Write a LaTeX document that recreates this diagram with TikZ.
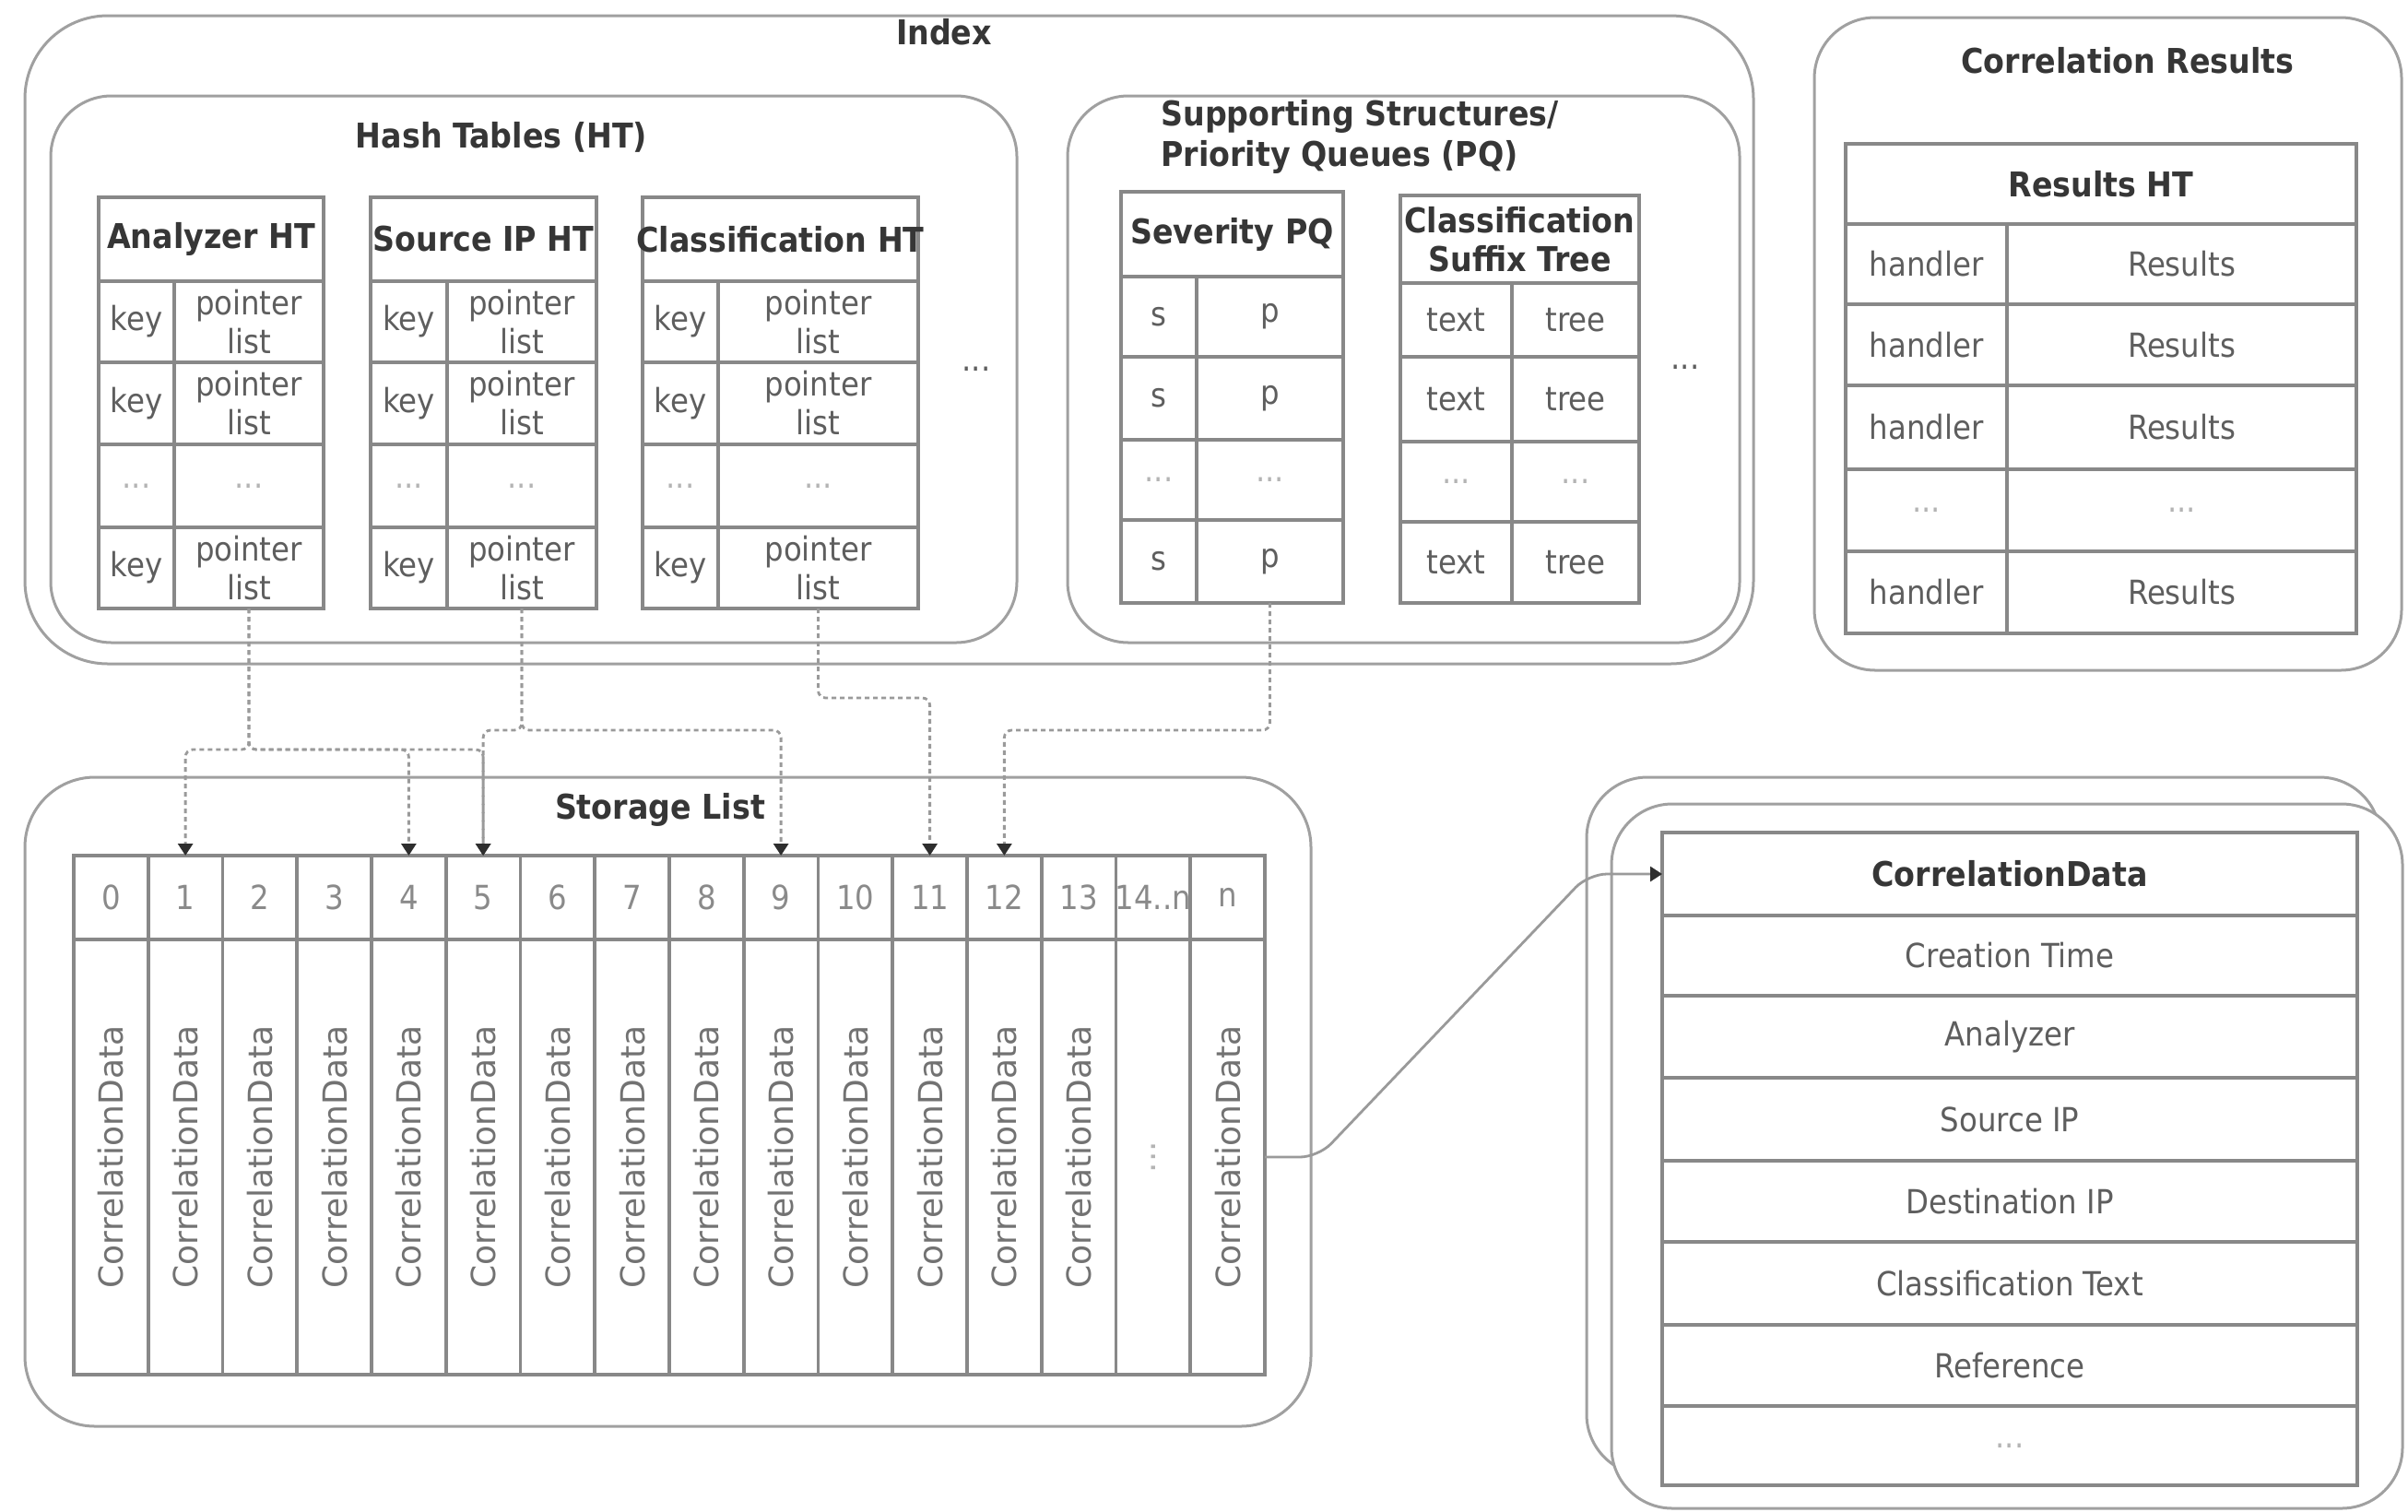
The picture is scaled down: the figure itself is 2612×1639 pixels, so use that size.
\documentclass[tikz,border=0pt]{standalone}
\usepackage{fontspec}
\setmainfont{DejaVu Sans Condensed}
\newfontfamily\widefont{DejaVu Sans}
\usetikzlibrary{arrows.meta}
\definecolor{boxc}{HTML}{A0A0A0}
\definecolor{tabc}{HTML}{888888}
\definecolor{txtc}{HTML}{5E5E5E}
\definecolor{hdc}{HTML}{363636}
\definecolor{dotc}{HTML}{B4B4B4}
\definecolor{numc}{HTML}{8A8A8A}
\definecolor{conc}{HTML}{9A9A9A}
\definecolor{tipc}{HTML}{2E2E2E}
\definecolor{rotc}{HTML}{727272}
\newcommand\cellat[7]{\node[cellbox, minimum width={(#4-#2)*0.5pt}, minimum height={(#5-#3)*0.5pt}, #6] (#1) at ({(#2+#4)/2},{(#3+#5)/2}) {#7};}
\newcommand\rbox[6]{\node[roundbox, rounded corners=#6, minimum width={(#4-#2)*0.5pt}, minimum height={(#5-#3)*0.5pt}] (#1) at ({(#2+#4)/2},{(#3+#5)/2}) {};}
\newcommand\hashtab[5]{%
 \cellat{#1-h}{#2}{214}{#4}{305}{hd}{\makebox[0pt]{#5}}
 \cellat{#1-k1}{#2}{305}{#3}{393}{}{key}
 \cellat{#1-p1}{#3}{305}{#4}{393}{}{pointer\\list}
 \cellat{#1-k2}{#2}{393}{#3}{482}{}{key}
 \cellat{#1-p2}{#3}{393}{#4}{482}{}{pointer\\list}
 \cellat{#1-k3}{#2}{482}{#3}{572}{dots}{...}
 \cellat{#1-p3}{#3}{482}{#4}{572}{dots}{...}
 \cellat{#1-k4}{#2}{572}{#3}{660}{}{key}
 \cellat{#1-p4}{#3}{572}{#4}{660}{}{pointer\\list}
}
\begin{document}
\begin{tikzpicture}[x=0.5pt,y=-0.5pt,
  cellbox/.style={draw=tabc, line width=1.8pt, inner sep=0pt, outer sep=0pt, align=center, text=txtc, font=\fontsize{18}{21}\selectfont},
  hd/.style={text=hdc, font=\fontsize{18.5}{21}\selectfont\bfseries},
  dots/.style={text=dotc},
  num/.style={text=numc},
  roundbox/.style={draw=boxc, line width=1.5pt, fill=white, inner sep=0pt, outer sep=0pt},
  title/.style={text=hdc, font=\fontsize{18.5}{22}\selectfont\bfseries, inner sep=0pt},
  plain/.style={text=txtc, font=\fontsize{18}{21}\selectfont, inner sep=0pt},
  rottext/.style={rotate=90, text=rotc, font=\widefont\fontsize{18}{21}\selectfont, inner sep=0pt},
  conn/.style={draw=conc, line width=1.4pt, dash pattern=on 2.5pt off 2pt, rounded corners=4pt, -{Triangle[width=8pt,length=6.5pt,fill=tipc,color=tipc]}},
  solidconn/.style={draw=conc, line width=1.4pt, rounded corners=10pt, -{Triangle[width=8pt,length=6.5pt,fill=tipc,color=tipc]}},
]
\path[fill=white] (0,0) rectangle (2612,1639);
\useasboundingbox (0,0) rectangle (2612,1639);

% container boxes
\rbox{index}{27}{17}{1902}{720}{45pt}
\rbox{hashbox}{55}{104}{1103}{697}{33pt}
\rbox{suppbox}{1158}{104}{1887}{697}{33pt}
\rbox{resbox}{1968}{19}{2605}{727}{33pt}
\rbox{storebox}{27}{843}{1422}{1547}{38pt}
\rbox{cdback}{1721}{843}{2582}{1600}{33pt}
\rbox{cdfront}{1748}{872}{2606}{1636}{33pt}

% titles
\node[title] (indexlbl) at (1024,35) {Index};
\node[title] (hashlbl) at (544,149) {Hash Tables (HT)};
\node[title, anchor=west, align=left] (supplbl) at (1259,148) {Supporting Structures/\\Priority Queues (PQ)};
\node[title] (reslbl) at (2308,66) {Correlation Results};
\node[title] (storelbl) at (716,878) {Storage List};
\node[plain] (dotsA) at (1059,400) {...};
\node[plain] (dotsB) at (1828,398) {...};

% hash tables
\hashtab{an}{107}{189}{351}{Analyzer HT}
\hashtab{si}{402}{485}{647}{Source IP HT}
\hashtab{cl}{697}{779}{996}{Classification HT}

% severity PQ
\cellat{sv-h}{1216}{208}{1457}{300}{hd}{Severity PQ}
\cellat{sv-k1}{1216}{300}{1298}{387}{}{s}
\cellat{sv-p1}{1298}{300}{1457}{387}{}{p}
\cellat{sv-k2}{1216}{387}{1298}{477}{}{s}
\cellat{sv-p2}{1298}{387}{1457}{477}{}{p}
\cellat{sv-k3}{1216}{477}{1298}{564}{dots}{...}
\cellat{sv-p3}{1298}{477}{1457}{564}{dots}{...}
\cellat{sv-k4}{1216}{564}{1298}{654}{}{s}
\cellat{sv-p4}{1298}{564}{1457}{654}{}{p}

% classification suffix tree
\cellat{sf-h}{1519}{212}{1778}{307}{hd}{\makebox[0pt]{Classification}\\Suffix Tree}
\cellat{sf-k1}{1519}{307}{1640}{387}{}{text}
\cellat{sf-p1}{1640}{307}{1778}{387}{}{tree}
\cellat{sf-k2}{1519}{387}{1640}{479}{}{text}
\cellat{sf-p2}{1640}{387}{1778}{479}{}{tree}
\cellat{sf-k3}{1519}{479}{1640}{566}{dots}{...}
\cellat{sf-p3}{1640}{479}{1778}{566}{dots}{...}
\cellat{sf-k4}{1519}{566}{1640}{654}{}{text}
\cellat{sf-p4}{1640}{566}{1778}{654}{}{tree}

% results HT
\cellat{rs-h}{2002}{156}{2556}{243}{hd}{Results HT}
\cellat{rs-k1}{2002}{243}{2177}{330}{}{handler}
\cellat{rs-p1}{2177}{243}{2556}{330}{}{Results}
\cellat{rs-k2}{2002}{330}{2177}{418}{}{handler}
\cellat{rs-p2}{2177}{330}{2556}{418}{}{Results}
\cellat{rs-k3}{2002}{418}{2177}{509}{}{handler}
\cellat{rs-p3}{2177}{418}{2556}{509}{}{Results}
\cellat{rs-k4}{2002}{509}{2177}{598}{dots}{...}
\cellat{rs-p4}{2177}{509}{2556}{598}{dots}{...}
\cellat{rs-k5}{2002}{598}{2177}{687}{}{handler}
\cellat{rs-p5}{2177}{598}{2556}{687}{}{Results}

% storage list
\foreach \i/\lab in {0/0,1/1,2/2,3/3,4/4,5/5,6/6,7/7,8/8,9/9,10/10,11/11,12/12,13/13,14/14..n,15/n}{
  \pgfmathsetmacro\xa{80+80.75*\i}
  \pgfmathsetmacro\xb{80+80.75*(\i+1)}
  \cellat{sh\i}{\xa}{928}{\xb}{1019}{num}{\makebox[0pt]{\lab}}
  \cellat{sb\i}{\xa}{1019}{\xb}{1491}{}{}
  \ifnum\i=14
    \node[rottext, text=dotc] (st\i) at (sb\i) {...};
  \else
    \node[rottext] (st\i) at (sb\i) {CorrelationData};
  \fi
}

% correlation data record
\cellat{cd0}{1803}{903}{2557}{993}{hd}{CorrelationData}
\cellat{cd1}{1803}{993}{2557}{1080}{}{Creation Time}
\cellat{cd2}{1803}{1080}{2557}{1169}{}{Analyzer}
\cellat{cd3}{1803}{1169}{2557}{1259}{}{Source IP}
\cellat{cd4}{1803}{1259}{2557}{1347}{}{Destination IP}
\cellat{cd5}{1803}{1347}{2557}{1437}{}{Classification Text}
\cellat{cd6}{1803}{1437}{2557}{1525}{}{Reference}
\cellat{cd7}{1803}{1525}{2557}{1611}{dots}{...}

% dashed index connectors
\draw[conn] (an-p4.south) -- ++(0,153) -| (sh1.north);
\draw[conn] (an-p4.south) -- ++(0,153) -| (sh4.north);
\draw[conn] (an-p4.south) -- ++(0,153) -| (sh5.north);
\draw[conn] (si-p4.south) -- ++(0,132) -| (sh5.north);
\draw[conn] (si-p4.south) -- ++(0,132) -| (sh9.north);
\draw[conn] (cl-p4.south) -- ++(0,97) -| (sh11.north);
\draw[conn] (sv-p4.south) -- ++(0,138) -| (sh12.north);

% storage to record
\coordinate (bendA) at (1430,1255);
\coordinate (bendB) at (1723,948);
\draw[solidconn] (sb15.east) -- (bendA) -- (bendB) -- (cd0.west);
\end{tikzpicture}
\end{document}
